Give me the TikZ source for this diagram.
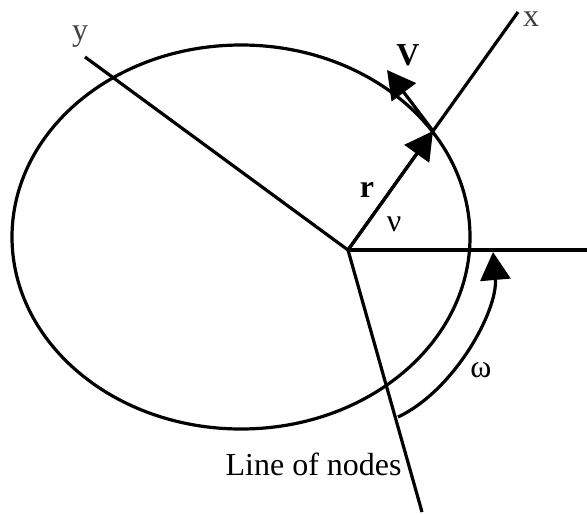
\documentclass[tikz,border=0pt]{standalone}
\usepackage{fontspec}
\setmainfont{Liberation Serif}
\usetikzlibrary{arrows.meta, positioning}

\begin{document}
\begin{tikzpicture}[
    x=0.5pt, y=-0.5pt,
    axis/.style={line width=1.6pt},
    vec/.style={line width=1.6pt, -{Triangle[length=14pt, width=15pt]}},
    lbl/.style={font=\fontsize{16}{18}\selectfont, inner sep=0pt}
]
    \useasboundingbox (0,0) rectangle (587,514);

    % Orbit
    \draw[axis] (241,237) ellipse (229 and 192);

    % Points
    \coordinate (O) at (348,250);
    \coordinate (xend) at (518,12);
    \coordinate (yend) at (85,57);
    \coordinate (east) at (587,250);
    \coordinate (nodes) at (422,512);
    \coordinate (P) at (433,131);
    \coordinate (Vtip) at (387,70);
    \coordinate (wstart) at (398,417);
    \coordinate (wend) at (493,252);

    % Axes
    \draw[axis] (O) -- (xend);
    \draw[axis] (O) -- (yend);
    \draw[axis] (O) -- (east);
    \draw[axis] (O) -- (nodes);

    % Vectors
    \draw[vec] (O) -- (P);
    \draw[vec] (P) -- (Vtip);
    \draw[vec] (wstart) .. controls (455,390) and (498,310) .. (wend);

    % Labels
    \node[lbl, text=black!75] (xlbl) at (531,19) {x};
    \node[lbl, text=black!75] (ylbl) at (80,37) {y};
    \node[lbl] (Vlbl) at (408,55) {\textbf{V}};
    \node[lbl] (rlbl) at (367,190) {\textbf{r}};
    \node[lbl] (nulbl) at (394,224) {ν};
    \node[lbl] (wlbl) at (481,370) {ω};
    \node[lbl, anchor=east] (nodeslbl) at (402,464) {Line of nodes};
\end{tikzpicture}
\end{document}
